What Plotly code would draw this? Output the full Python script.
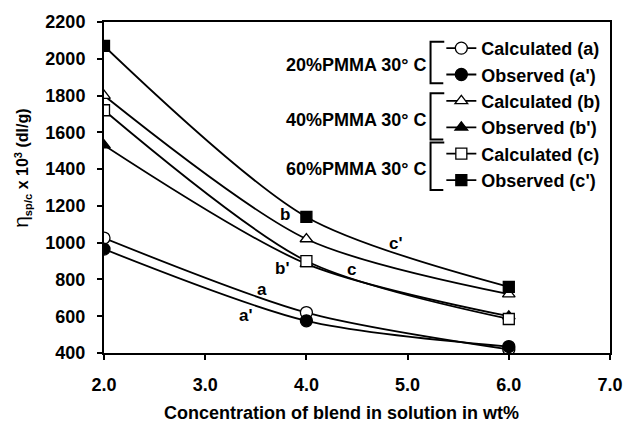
import plotly.graph_objects as go

# ---- data ----
conc = [2.0, 4.0, 6.0]
calc_a = [1025, 620, 420]
obs_a = [965, 575, 435]
calc_b = [1800, 1020, 720]
obs_b = [1530, 885, 600]
calc_c = [1720, 900, 585]
obs_c = [2070, 1140, 760]

series_names = ["Calculated (a)", "Observed (a')", "Calculated (b)",
                "Observed (b')", "Calculated (c)", "Observed (c')"]
series_values = [calc_a, obs_a, calc_b, obs_b, calc_c, obs_c]
series_symbols = ["circle", "circle", "triangle-up",
                  "triangle-up", "square", "square"]
series_fill = ["white", "black", "white", "black", "white", "black"]
series_size = [12, 12, 11, 11, 11, 11]

group_labels = ["20%PMMA 30° C", "40%PMMA 30° C", "60%PMMA 30° C"]

curve_labels = ["b", "b'", "a", "a'", "c'", "c"]
curve_label_x = [3.79, 3.76, 3.56, 3.40, 4.89, 4.45]
curve_label_y = [1155, 860, 748, 603, 996, 856]

x_ticks = [2.0, 3.0, 4.0, 5.0, 6.0, 7.0]
y_ticks = list(range(400, 2201, 200))

# ---- layout geometry (pixels) ----
W, H = 635, 424
ML, MR, MT, MB = 104, 15, 18, 71
PW, PH = W - ML - MR, H - MT - MB


def px(xp):
    return (xp - ML) / PW


def py(yp):
    return (H - MB - yp) / PH


FONT = "Liberation Sans, Arial, sans-serif"

fig = go.Figure()
for name, vals, sym, fill, sz in zip(series_names, series_values, series_symbols,
                                     series_fill, series_size):
    fig.add_trace(go.Scatter(
        x=conc, y=vals, name=name, mode="lines+markers",
        line=dict(color="black", width=1.8, shape="spline", smoothing=0.8),
        marker=dict(symbol=sym, size=sz, color=fill,
                    line=dict(color="black", width=1.3)),
    ))

annotations = []
for t, xv, yv in zip(curve_labels, curve_label_x, curve_label_y):
    annotations.append(dict(x=xv, y=yv, xref="x", yref="y", text=f"<b>{t}</b>",
                            showarrow=False, font=dict(size=17, color="black", family=FONT)))

group_y = [62, 117, 167]
for t, gy in zip(group_labels, group_y):
    annotations.append(dict(x=px(435), y=py(gy), xref="paper", yref="paper",
                            text=f"<b>{t}</b>", showarrow=False, xanchor="right",
                            yanchor="middle",
                            font=dict(size=18, color="black", family=FONT)))

# x-axis title
annotations.append(dict(x=px(346), y=py(414), xref="paper", yref="paper",
                        text="<b>Concentration of blend in solution in wt%</b>",
                        showarrow=False, xanchor="center", yanchor="middle",
                        font=dict(size=18, color="black", family=FONT)))
# y-axis title
annotations.append(dict(x=px(20), y=py(166), xref="paper", yref="paper",
                        text="<span style='font-weight:normal;font-size:21px'>η</span>"
                             "<b><sub>sp/c</sub> x 10<sup>3</sup> (dl/g)</b>",
                        showarrow=False, textangle=-90, xanchor="center", yanchor="middle",
                        font=dict(size=16, color="black", family=FONT)))

shapes = []
brackets = [(38, 80), (90, 137), (140, 188)]
for top, bot in brackets:
    shapes.append(dict(type="path", xref="paper", yref="paper",
                       path=f"M {px(451)} {py(top)} L {px(437)} {py(top)} "
                            f"L {px(437)} {py(bot)} L {px(450)} {py(bot)}",
                       line=dict(color="black", width=2)))

fig.update_layout(
    width=W, height=H,
    margin=dict(l=ML, r=MR, t=MT, b=MB),
    paper_bgcolor="white", plot_bgcolor="white",
    font=dict(family=FONT, color="black"),
    showlegend=True,
    legend=dict(x=px(448), y=py(26), xanchor="left", yanchor="top",
                font=dict(size=18, color="black", family=FONT, weight="bold"),
                bgcolor="rgba(0,0,0,0)", borderwidth=0, itemwidth=30,
                tracegroupgap=0),
    annotations=annotations,
    shapes=shapes,
    xaxis=dict(range=[2.0, 7.0], tickvals=x_ticks,
               ticktext=[f"{v:.1f}" for v in x_ticks],
               showline=True, linecolor="black", linewidth=2, mirror=True,
               ticks="outside", ticklen=5, tickcolor="black", tickwidth=1.5,
               ticklabelstandoff=9, showgrid=False, zeroline=False,
               tickfont=dict(size=18, family=FONT, color="black", weight="bold")),
    yaxis=dict(range=[400, 2200], tickvals=y_ticks,
               showline=True, linecolor="black", linewidth=2, mirror=True,
               ticks="outside", ticklen=5, tickcolor="black", tickwidth=1.5,
               ticklabelstandoff=8, showgrid=False, zeroline=False,
               tickfont=dict(size=18, family=FONT, color="black", weight="bold")),
)

fig.write_html("out.html")
